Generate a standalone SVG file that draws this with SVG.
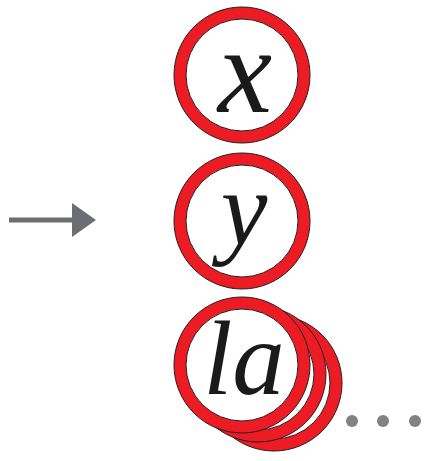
<svg xmlns="http://www.w3.org/2000/svg" width="430" height="461" viewBox="0 0 430 461">
<style>
.ring{fill:#ed1c24;stroke:#231f20;stroke-width:1}
.hole{fill:#ffffff;stroke:#231f20;stroke-width:1}
.lbl{font-family:"Liberation Serif","DejaVu Serif",serif;font-style:italic;fill:#1a1a1a;text-anchor:middle}
.dot{fill:#808285}
</style>
<rect width="430" height="461" fill="#ffffff"/>
<g id="connectors">
<line x1="9" y1="220" x2="74" y2="220" stroke="#6d6e71" stroke-width="5"/>
<polygon points="72,203 96,220 72,237" fill="#6d6e71"/>
</g>
<g id="node-x">
<circle class="ring" cx="242" cy="75" r="68"/>
<circle class="hole" cx="242" cy="75" r="56"/>
<text class="lbl" x="245" y="112" font-size="122">x</text>
</g>
<g id="node-y">
<circle class="ring" cx="242" cy="221" r="68"/>
<circle class="hole" cx="242" cy="221" r="56"/>
<text class="lbl" x="244" y="244" font-size="105">y</text>
</g>
<g id="node-la">
<circle class="ring" cx="274" cy="383" r="68"/>
<circle class="hole" cx="274" cy="383" r="56"/>
<circle class="ring" cx="258" cy="374" r="68"/>
<circle class="hole" cx="258" cy="374" r="56"/>
<circle class="ring" cx="242" cy="365" r="68"/>
<circle class="hole" cx="242" cy="365" r="56"/>
<text class="lbl" x="244" y="394" font-size="105">la</text>
</g>
<g id="dots">
<circle class="dot" cx="352" cy="421" r="6"/>
<circle class="dot" cx="383" cy="421" r="6"/>
<circle class="dot" cx="415" cy="421" r="6"/>
</g>
</svg>
